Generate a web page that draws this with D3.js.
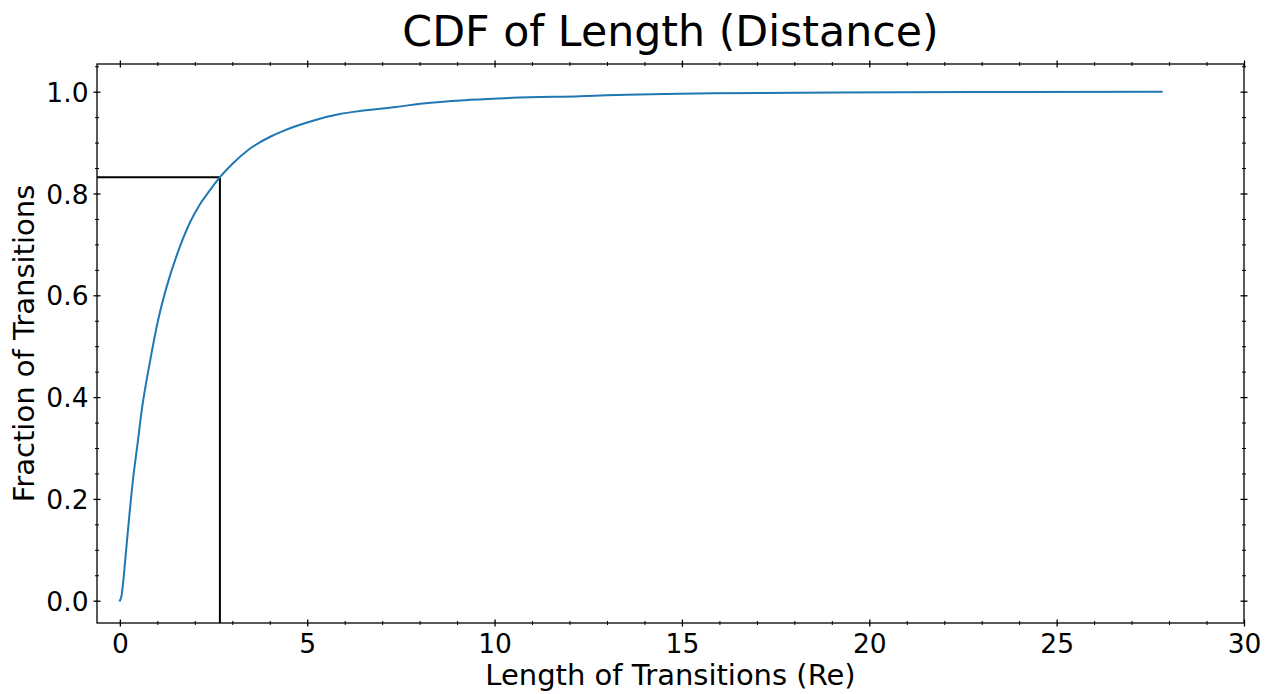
<!DOCTYPE html>
<html>
<head>
<meta charset="utf-8">
<script src="https://cdn.jsdelivr.net/npm/d3@7"></script>
<style>
  html, body { margin: 0; padding: 0; background: #fff; }
  svg { display: block; font-family: "DejaVu Sans", sans-serif; }
</style>
</head>
<body>
<svg id="chart" width="1271" height="694"></svg>
<script>
// ---- data ----
const lengthX = [0, 0.05, 0.10, 0.15, 0.25, 0.36, 0.47, 0.58, 0.80, 1.02, 1.25, 1.60, 1.87, 2.13, 2.40, 2.67, 3.00, 3.45, 4.00, 4.30, 4.65, 5.20, 5.87, 6.40, 7.38, 8.09, 9.34, 10.94, 12.28, 12.99, 15.83, 20.8, 27.8];
const cdfY    = [0, 0.012, 0.045, 0.085, 0.165, 0.244, 0.307, 0.372, 0.468, 0.551, 0.617, 0.695, 0.743, 0.778, 0.806, 0.832, 0.858, 0.887, 0.911, 0.921, 0.931, 0.944, 0.956, 0.962, 0.970, 0.977, 0.984, 0.989, 0.991, 0.993, 0.997, 0.999, 1.0];
const markerX = 2.67;
const markerY = 0.832;
const xTicks = [0, 5, 10, 15, 20, 25, 30];
const xTickLabels = ["0", "5", "10", "15", "20", "25", "30"];
const yTicks = [0, 0.2, 0.4, 0.6, 0.8, 1.0];
const yTickLabels = ["0.0", "0.2", "0.4", "0.6", "0.8", "1.0"];
const xMinorTicks = d3.range(0, 31, 1).filter(v => v % 5 !== 0);
const yMinorTicks = d3.range(-1, 22, 1).map(v => v * 0.05).filter(v => Math.abs(Math.round(v * 20) % 4) !== 0 && v > -0.044 && v < 1.054);
const titleText = "CDF of Length (Distance)";
const xLabelText = "Length of Transitions (Re)";
const yLabelText = "Fraction of Transitions";

// ---- layout ----
const L = 97, R = 1244, T = 64, B = 623;
const svg = d3.select("#chart");
const x = d3.scaleLinear().domain([-0.61, 30]).range([L, R]);
const y = d3.scaleLinear().domain([-0.0438, 1.0544]).range([B, T]);

function styleAxis(g, majorLen, sw, vertical) {
  g.select(".domain").remove();
  g.selectAll(".tick line")
    .attr("stroke", "#000")
    .attr("stroke-width", sw)
    .attr(vertical ? "x1" : "y1", -majorLen)
    .attr(vertical ? "x2" : "y2", majorLen);
}

// minor ticks all sides
const sides = [
  {axis: d3.axisBottom, tr: `translate(0,${B})`, sc: x, vals: xMinorTicks, v: false},
  {axis: d3.axisTop, tr: `translate(0,${T})`, sc: x, vals: xMinorTicks, v: false},
  {axis: d3.axisLeft, tr: `translate(${L},0)`, sc: y, vals: yMinorTicks, v: true},
  {axis: d3.axisRight, tr: `translate(${R},0)`, sc: y, vals: yMinorTicks, v: true}
];
sides.forEach(s => {
  const g = svg.append("g").attr("transform", s.tr)
    .call(s.axis(s.sc).tickValues(s.vals).tickFormat(""));
  styleAxis(g, 2, 1, s.v);
});

// major ticks
const gxb = svg.append("g").attr("transform", `translate(0,${B})`)
  .call(d3.axisBottom(x).tickValues(xTicks).tickFormat((d, i) => xTickLabels[i]).tickPadding(0));
styleAxis(gxb, 3.5, 1.3, false);
gxb.selectAll(".tick text").attr("font-size", "26.5px").attr("fill", "#000")
  .attr("y", 30).attr("dy", 0).attr("font-family", "DejaVu Sans");

const gxt = svg.append("g").attr("transform", `translate(0,${T})`)
  .call(d3.axisTop(x).tickValues(xTicks).tickFormat(""));
styleAxis(gxt, 3.5, 1.3, false);

const gyl = svg.append("g").attr("transform", `translate(${L},0)`)
  .call(d3.axisLeft(y).tickValues(yTicks).tickFormat((d, i) => yTickLabels[i]));
styleAxis(gyl, 3.5, 1.3, true);
gyl.selectAll(".tick text").attr("font-size", "26.5px").attr("fill", "#000")
  .attr("x", -8.5).attr("dy", "0.36em").attr("font-family", "DejaVu Sans");

const gyr = svg.append("g").attr("transform", `translate(${R},0)`)
  .call(d3.axisRight(y).tickValues(yTicks).tickFormat(""));
styleAxis(gyr, 3.5, 1.3, true);

// frame
svg.append("rect").attr("x", L).attr("y", T).attr("width", R - L).attr("height", B - T)
  .attr("fill", "none").attr("stroke", "#000").attr("stroke-width", 1.3);

// marker lines
svg.append("line")
  .attr("x1", L).attr("x2", x(markerX))
  .attr("y1", y(markerY)).attr("y2", y(markerY))
  .attr("stroke", "#000").attr("stroke-width", 2);
svg.append("line")
  .attr("x1", x(markerX)).attr("x2", x(markerX))
  .attr("y1", B).attr("y2", y(markerY))
  .attr("stroke", "#000").attr("stroke-width", 2);

// curve
const pts = lengthX.map((v, i) => [v, cdfY[i]]);
svg.append("path")
  .datum(pts)
  .attr("fill", "none")
  .attr("stroke", "#1f77b4")
  .attr("stroke-width", 2)
  .attr("stroke-linejoin", "round")
  .attr("stroke-linecap", "square")
  .attr("d", d3.line().x(d => x(d[0])).y(d => y(d[1])).curve(d3.curveMonotoneX));

// texts
svg.append("text").attr("x", (L + R) / 2).attr("y", 46)
  .attr("text-anchor", "middle").attr("font-size", "42.7px").attr("fill", "#000")
  .text(titleText);
svg.append("text").attr("x", (L + R) / 2).attr("y", 685)
  .attr("text-anchor", "middle").attr("font-size", "29px").attr("fill", "#000")
  .text(xLabelText);
svg.append("text")
  .attr("transform", `translate(34,${(T + B) / 2}) rotate(-90)`)
  .attr("text-anchor", "middle").attr("font-size", "29px").attr("fill", "#000")
  .text(yLabelText);
</script>
</body>
</html>
